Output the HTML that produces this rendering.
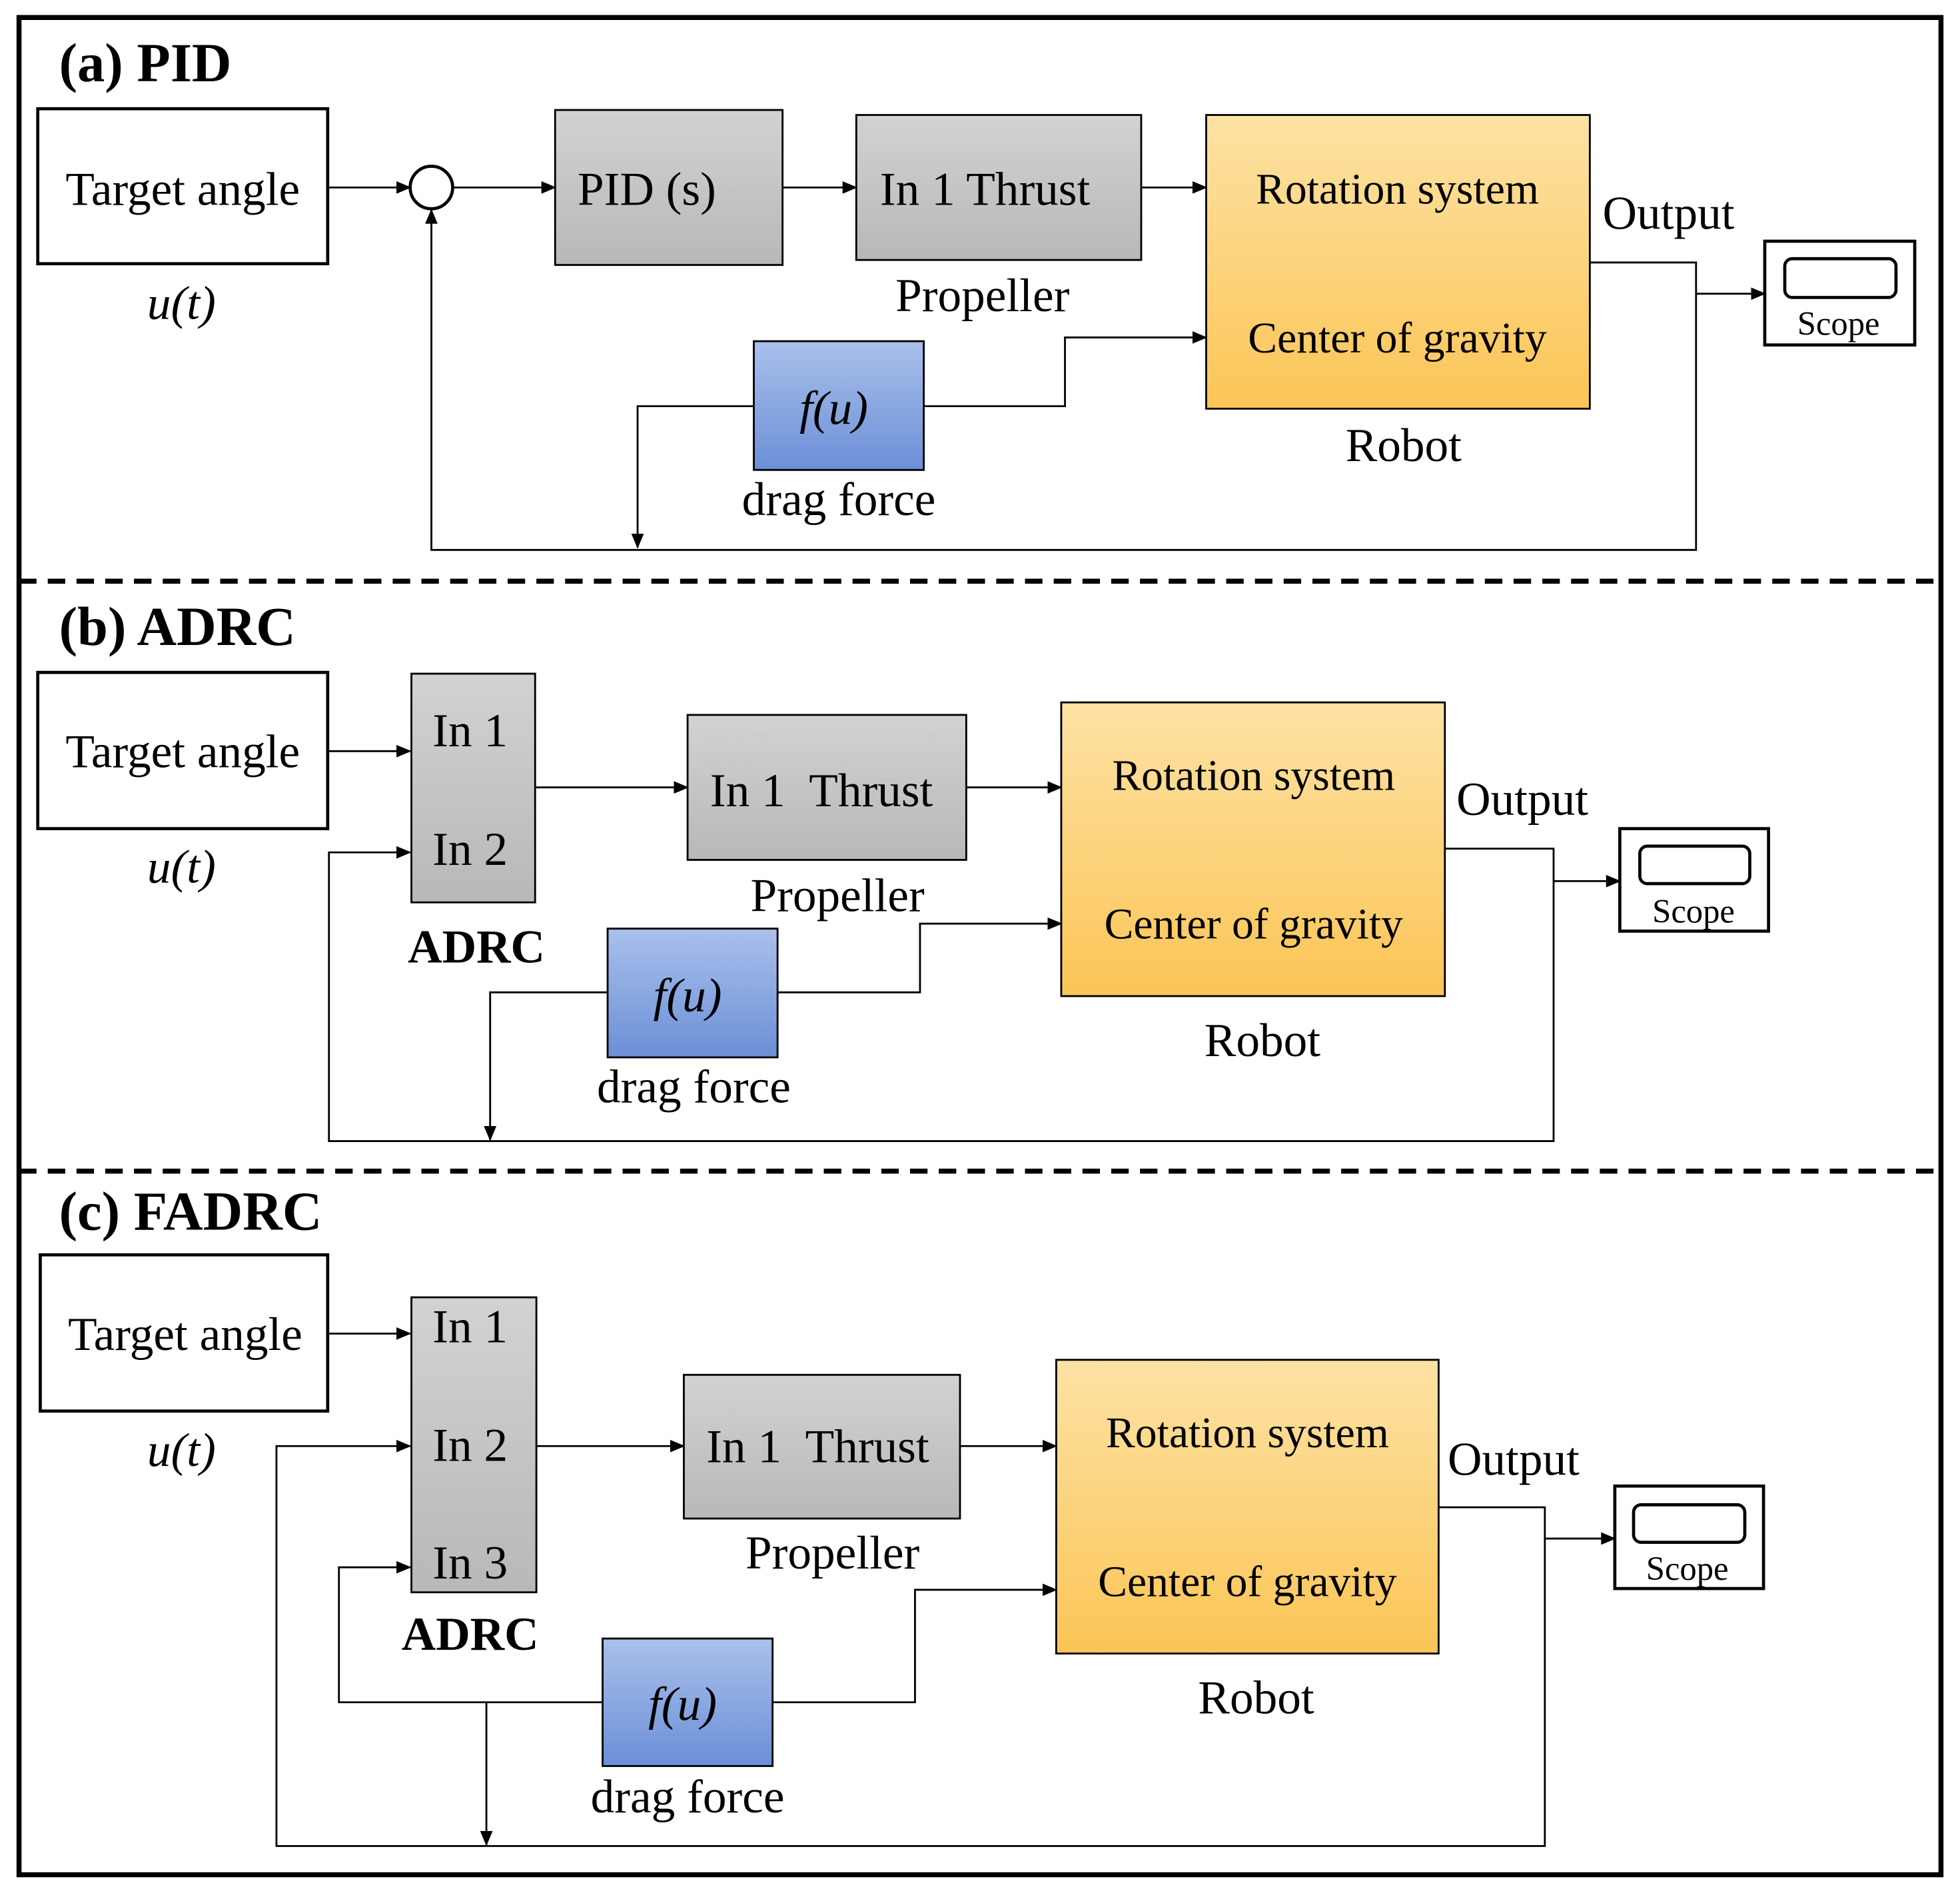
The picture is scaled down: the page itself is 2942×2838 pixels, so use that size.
<!DOCTYPE html>
<html><head><meta charset="utf-8"><style>
html,body{margin:0;padding:0;background:#fff;}
svg{display:block;}
text{font-family:"Liberation Serif",serif;fill:#000;}
</style></head><body>
<svg width="2942" height="2838" viewBox="0 0 1568 1513" xmlns="http://www.w3.org/2000/svg">
<defs>
<marker id="ar" markerWidth="12" markerHeight="10" refX="11" refY="5" orient="auto" markerUnits="userSpaceOnUse">
<path d="M0,0 L12,5 L0,10 z" fill="#000"/></marker>
<linearGradient id="gg" x1="0" y1="0" x2="0" y2="1"><stop offset="0" stop-color="#d2d2d2"/><stop offset="1" stop-color="#b8b8b8"/></linearGradient>
<linearGradient id="og" x1="0" y1="0" x2="0" y2="1"><stop offset="0" stop-color="#fde2a4"/><stop offset="1" stop-color="#fbc556"/></linearGradient>
<linearGradient id="bg" x1="0" y1="0" x2="0" y2="1"><stop offset="0" stop-color="#aac0ec"/><stop offset="1" stop-color="#6b8fd6"/></linearGradient>
</defs>
<rect x="15" y="14" width="1538" height="1486" fill="none" stroke="#000" stroke-width="4"/>
<line x1="15" y1="465" x2="1553" y2="465" stroke="#000" stroke-width="4" stroke-dasharray="14,9"/>
<line x1="15" y1="937" x2="1553" y2="937" stroke="#000" stroke-width="4" stroke-dasharray="14,9"/>

<g stroke="#000" stroke-width="1.5" fill="none">
<line x1="262" y1="150" x2="328" y2="150" marker-end="url(#ar)"/>
<line x1="362" y1="150" x2="444" y2="150" marker-end="url(#ar)"/>
<line x1="626" y1="150" x2="685" y2="150" marker-end="url(#ar)"/>
<line x1="913" y1="150" x2="965" y2="150" marker-end="url(#ar)"/>
<polyline points="1272,210 1357,210 1357,440 345,440 345,168" marker-end="url(#ar)"/>
<line x1="1357" y1="235" x2="1412" y2="235" marker-end="url(#ar)"/>
<polyline points="739,325 852,325 852,270 965,270" marker-end="url(#ar)"/>
<polyline points="603,325 510,325 510,438" marker-end="url(#ar)"/>
<line x1="262" y1="601" x2="328" y2="601" marker-end="url(#ar)"/>
<line x1="428" y1="630" x2="550" y2="630" marker-end="url(#ar)"/>
<line x1="773" y1="630" x2="849" y2="630" marker-end="url(#ar)"/>
<polyline points="1156,679 1243,679 1243,913 263,913 263,682 328,682" marker-end="url(#ar)"/>
<line x1="1243" y1="705" x2="1296" y2="705" marker-end="url(#ar)"/>
<polyline points="622,794 736,794 736,739 849,739" marker-end="url(#ar)"/>
<polyline points="486,794 392,794 392,912" marker-end="url(#ar)"/>
<line x1="262" y1="1067" x2="328" y2="1067" marker-end="url(#ar)"/>
<line x1="429" y1="1157" x2="547" y2="1157" marker-end="url(#ar)"/>
<line x1="768" y1="1157" x2="845" y2="1157" marker-end="url(#ar)"/>
<polyline points="1151,1206 1236,1206 1236,1477 221,1477 221,1157 328,1157" marker-end="url(#ar)"/>
<line x1="1236" y1="1231" x2="1292" y2="1231" marker-end="url(#ar)"/>
<polyline points="618,1362 732,1362 732,1272 845,1272" marker-end="url(#ar)"/>
<polyline points="482,1362 271,1362 271,1254 328,1254" marker-end="url(#ar)"/>
<line x1="389" y1="1362" x2="389" y2="1476" marker-end="url(#ar)"/>
</g>

<g stroke="#000" stroke-width="2.5">
<rect x="30" y="87" width="232" height="124" fill="#fff"/>
<circle cx="345" cy="150" r="17" fill="#fff"/>
<rect x="444" y="88" width="182" height="124" fill="url(#gg)" stroke-width="1.5"/>
<rect x="685" y="92" width="228" height="116" fill="url(#gg)" stroke-width="1.5"/>
<rect x="965" y="92" width="307" height="235" fill="url(#og)" stroke-width="1.5"/>
<rect x="1412" y="193" width="120" height="83" fill="#fff"/>
<rect x="1428" y="207" width="89" height="31" rx="6" fill="#fff"/>
<rect x="603" y="273" width="136" height="103" fill="url(#bg)" stroke-width="1.5"/>
<rect x="30" y="538" width="232" height="125" fill="#fff"/>
<rect x="329" y="539" width="99" height="183" fill="url(#gg)" stroke-width="1.5"/>
<rect x="550" y="572" width="223" height="116" fill="url(#gg)" stroke-width="1.5"/>
<rect x="849" y="562" width="307" height="235" fill="url(#og)" stroke-width="1.5"/>
<rect x="1296" y="663" width="119" height="82" fill="#fff"/>
<rect x="1312" y="677" width="88" height="30" rx="6" fill="#fff"/>
<rect x="486" y="743" width="136" height="103" fill="url(#bg)" stroke-width="1.5"/>
<rect x="32" y="1004" width="230" height="125" fill="#fff"/>
<rect x="329" y="1038" width="100" height="236" fill="url(#gg)" stroke-width="1.5"/>
<rect x="547" y="1100" width="221" height="115" fill="url(#gg)" stroke-width="1.5"/>
<rect x="845" y="1088" width="306" height="235" fill="url(#og)" stroke-width="1.5"/>
<rect x="1292" y="1189" width="119" height="82" fill="#fff"/>
<rect x="1307" y="1204" width="89" height="30" rx="6" fill="#fff"/>
<rect x="482" y="1311" width="136" height="102" fill="url(#bg)" stroke-width="1.5"/>
</g>

<g font-size="38">
<text x="47" y="65" font-weight="bold" font-size="44">(a) PID</text>
<text x="146" y="164" text-anchor="middle">Target angle</text>
<text x="145" y="255" text-anchor="middle" font-style="italic">u(t)</text>
<text x="462" y="164">PID (s)</text>
<text x="704" y="164">In 1 Thrust</text>
<text x="786" y="249" text-anchor="middle">Propeller</text>
<text x="1118" y="163" text-anchor="middle" font-size="35">Rotation system</text>
<text x="1118" y="282" text-anchor="middle" font-size="35">Center of gravity</text>
<text x="1123" y="369" text-anchor="middle">Robot</text>
<text x="1335" y="183" text-anchor="middle">Output</text>
<text x="1471" y="268" text-anchor="middle" font-size="27">Scope</text>
<text x="667" y="339" text-anchor="middle" font-style="italic">f(u)</text>
<text x="671" y="412" text-anchor="middle">drag force</text>

<text x="47" y="516" font-weight="bold" font-size="44">(b) ADRC</text>
<text x="146" y="614" text-anchor="middle">Target angle</text>
<text x="145" y="706" text-anchor="middle" font-style="italic">u(t)</text>
<text x="376" y="597" text-anchor="middle">In 1</text>
<text x="376" y="692" text-anchor="middle">In 2</text>
<text x="381" y="770" text-anchor="middle" font-weight="bold">ADRC</text>
<text x="568" y="645">In 1&#160;&#160;Thrust</text>
<text x="670" y="729" text-anchor="middle">Propeller</text>
<text x="1003" y="632" text-anchor="middle" font-size="35">Rotation system</text>
<text x="1003" y="751" text-anchor="middle" font-size="35">Center of gravity</text>
<text x="1010" y="845" text-anchor="middle">Robot</text>
<text x="1218" y="652" text-anchor="middle">Output</text>
<text x="1355" y="738" text-anchor="middle" font-size="27">Scope</text>
<text x="550" y="809" text-anchor="middle" font-style="italic">f(u)</text>
<text x="555" y="882" text-anchor="middle">drag force</text>

<text x="47" y="984" font-weight="bold" font-size="44">(c) FADRC</text>
<text x="148" y="1080" text-anchor="middle">Target angle</text>
<text x="145" y="1173" text-anchor="middle" font-style="italic">u(t)</text>
<text x="376" y="1074" text-anchor="middle">In 1</text>
<text x="376" y="1169" text-anchor="middle">In 2</text>
<text x="376" y="1263" text-anchor="middle">In 3</text>
<text x="376" y="1320" text-anchor="middle" font-weight="bold">ADRC</text>
<text x="565" y="1170">In 1&#160;&#160;Thrust</text>
<text x="666" y="1255" text-anchor="middle">Propeller</text>
<text x="998" y="1158" text-anchor="middle" font-size="35">Rotation system</text>
<text x="998" y="1277" text-anchor="middle" font-size="35">Center of gravity</text>
<text x="1005" y="1371" text-anchor="middle">Robot</text>
<text x="1211" y="1180" text-anchor="middle">Output</text>
<text x="1350" y="1264" text-anchor="middle" font-size="27">Scope</text>
<text x="546" y="1376" text-anchor="middle" font-style="italic">f(u)</text>
<text x="550" y="1450" text-anchor="middle">drag force</text>
</g>
</svg>
</body></html>
